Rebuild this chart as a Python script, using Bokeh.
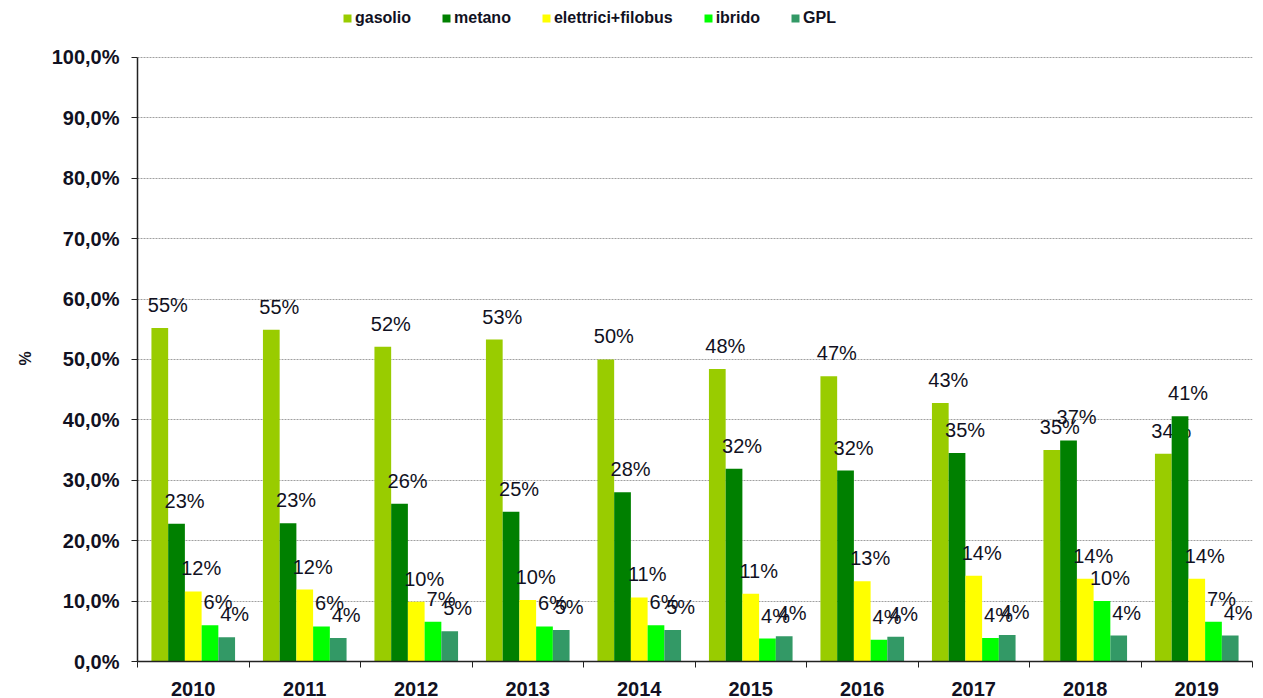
from bokeh.plotting import figure
from bokeh.models import ColumnDataSource, FixedTicker, Legend, LegendItem, Range1d, Title
from bokeh.embed import file_html
from bokeh.resources import INLINE

years = ["2010", "2011", "2012", "2013", "2014", "2015", "2016", "2017", "2018", "2019"]
gasolio = [55.2, 54.9, 52.1, 53.3, 50.0, 48.4, 47.2, 42.8, 35.0, 34.4]
metano = [22.8, 22.9, 26.1, 24.8, 28.0, 31.9, 31.6, 34.5, 36.6, 40.6]
elettrici = [11.6, 11.9, 9.9, 10.2, 10.6, 11.2, 13.3, 14.2, 13.7, 13.7]
ibrido = [6.0, 5.8, 6.6, 5.8, 6.0, 3.8, 3.6, 3.9, 10.0, 6.6]
gpl = [4.0, 3.9, 5.0, 5.2, 5.2, 4.2, 4.1, 4.4, 4.3, 4.3]

series_names = ["gasolio", "metano", "elettrici+filobus", "ibrido", "GPL"]
series_values = [gasolio, metano, elettrici, ibrido, gpl]
colors = ["#99CC00", "#008000", "#FFFF00", "#00FF00", "#339966"]
y_ticks = [0, 10, 20, 30, 40, 50, 60, 70, 80, 90, 100]

FONT = "Liberation Sans"
TXT = "#111122"

W, H = 1263, 698
BOTTOM, TOP100 = 36, 57          # frame bottom border; pixel row of 100 %
frame_h = H - BOTTOM
y_max = 100.0 * frame_h / (frame_h - TOP100)   # leaves room above 100 % for the legend

p = figure(width=W, height=H, output_backend="svg", toolbar_location=None,
           x_range=Range1d(0, len(years)), y_range=Range1d(0, y_max),
           min_border_left=137, min_border_right=11, min_border_top=0, min_border_bottom=BOTTOM)
p.outline_line_color = None
p.background_fill_color = "white"
p.border_fill_color = "white"

bw = 0.15
offsets = [-0.3, -0.15, 0.0, 0.15, 0.3]
items = []
for name, vals, col, off in zip(series_names, series_values, colors, offsets):
    xs = [i + 0.5 + off for i in range(len(years))]
    src = ColumnDataSource(dict(x=xs, top=vals, lab=[f"{int(v + 0.5)}%" for v in vals]))
    r = p.vbar(x="x", top="top", bottom=0, width=bw, source=src, fill_color=col, line_color=None)
    p.text(x="x", y="top", text="lab", source=src, x_offset=8, y_offset=-23,
           text_align="center", text_baseline="alphabetic",
           text_font={"value": FONT}, text_font_size="20px", text_color=TXT)
    items.append(LegendItem(label=name, renderers=[r]))

# axes
p.xaxis.ticker = FixedTicker(ticks=[i + 0.5 for i in range(len(years))],
                             minor_ticks=list(range(len(years) + 1)))
p.xaxis.major_label_overrides = {i + 0.5: y for i, y in enumerate(years)}
p.xaxis.major_tick_line_color = None
p.xaxis.major_tick_out = 0
p.xaxis.major_tick_in = 0
p.xaxis.minor_tick_out = 6
p.xaxis.minor_tick_in = 0
p.xaxis.minor_tick_line_color = "#222222"
p.xaxis.axis_line_color = "#222222"
p.xaxis.axis_line_width = 1.5
p.xaxis.major_label_standoff = 14
p.xaxis.major_label_text_font = FONT
p.xaxis.major_label_text_font_size = "20px"
p.xaxis.major_label_text_font_style = "bold"
p.xaxis.major_label_text_color = TXT

p.yaxis.ticker = FixedTicker(ticks=y_ticks)
p.yaxis.bounds = (0, 100)
p.yaxis.major_label_overrides = {t: f"{t},0%" for t in y_ticks}
p.yaxis.minor_tick_line_color = None
p.yaxis.major_tick_out = 6
p.yaxis.major_tick_in = 0
p.yaxis.major_tick_line_color = "#222222"
p.yaxis.axis_line_color = "#222222"
p.yaxis.axis_line_width = 1.5
p.yaxis.major_label_standoff = 12
p.yaxis.major_label_text_font = FONT
p.yaxis.major_label_text_font_size = "20px"
p.yaxis.major_label_text_font_style = "bold"
p.yaxis.major_label_text_color = TXT

# y-axis title "%" centred on the 0-100 % span
ytitle = Title(text="%", align="left", offset=296, standoff=29,
               text_font=FONT, text_font_size="16px", text_font_style="bold",
               text_color=TXT)
p.add_layout(ytitle, "left")

p.xgrid.grid_line_color = None
p.ygrid.grid_line_color = "#a0a0a0"
p.ygrid.grid_line_dash = "2 1"
p.ygrid.grid_line_width = 1
p.ygrid.bounds = (0, 100)

legend = Legend(items=items, orientation="horizontal", location=(205, frame_h - 28),
                padding=0, margin=0, spacing=30, label_standoff=3,
                glyph_width=10, glyph_height=10,
                label_text_font=FONT, label_text_font_size="16px",
                label_text_font_style="bold", label_text_color=TXT,
                border_line_color=None, background_fill_alpha=0)
p.add_layout(legend, "center")

open("out.html", "w").write(file_html(p, INLINE))
